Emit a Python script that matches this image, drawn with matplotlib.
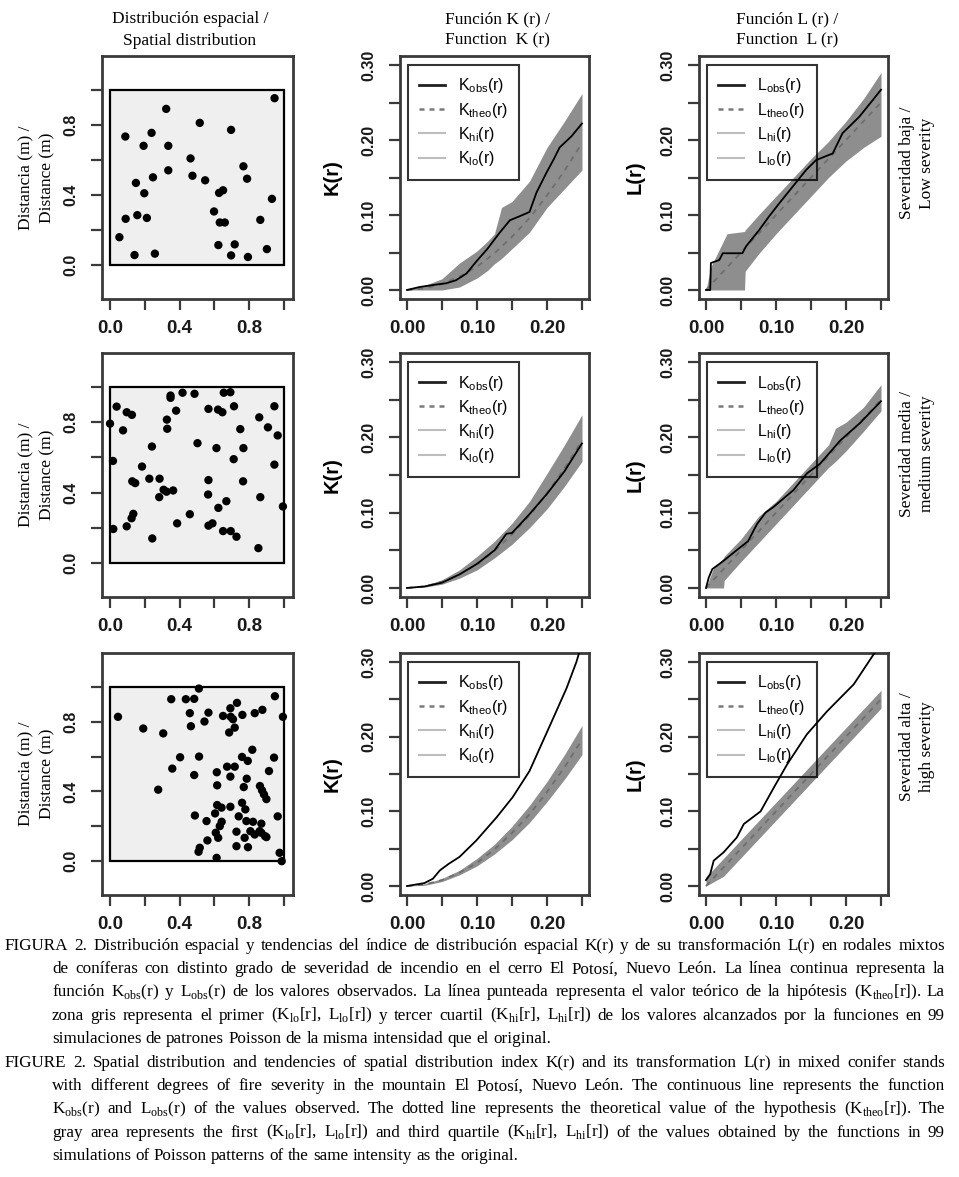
import numpy as np
import matplotlib
matplotlib.use("Agg")
import matplotlib.pyplot as plt
from matplotlib.lines import Line2D
from matplotlib.patches import Rectangle

plt.rcParams['font.family'] = 'Liberation Sans'
plt.rcParams['mathtext.fontset'] = 'custom'
plt.rcParams['mathtext.rm'] = 'Liberation Serif'
plt.rcParams['mathtext.sf'] = 'Liberation Sans'

# ---------------- data ----------------
# point patterns (unit window)
pts1_x = [0.946, 0.323, 0.516, 0.696, 0.088, 0.239, 0.193, 0.335, 0.463, 0.767, 0.335, 0.474,
          0.247, 0.788, 0.547, 0.149, 0.650, 0.627, 0.197, 0.931, 0.598, 0.157, 0.212, 0.090,
          0.631, 0.660, 0.864, 0.054, 0.623, 0.717, 0.902, 0.141, 0.258, 0.696, 0.793]
pts1_y = [0.953, 0.892, 0.812, 0.772, 0.734, 0.755, 0.681, 0.681, 0.609, 0.564, 0.541, 0.510,
          0.501, 0.493, 0.484, 0.469, 0.427, 0.412, 0.410, 0.378, 0.306, 0.285, 0.269, 0.264,
          0.243, 0.243, 0.258, 0.159, 0.114, 0.118, 0.091, 0.057, 0.065, 0.055, 0.046]

pts2_x = [0.348, 0.348, 0.417, 0.486, 0.654, 0.692, 0.038, 0.096, 0.126, 0.566, 0.621, 0.646,
          0.713, 0.945, 0.380, 0.327, 0.329, 0.000, 0.075, 0.749, 0.858, 0.908, 0.964, 0.503,
          0.241, 0.612, 0.767, 0.017, 0.711, 0.184, 0.945, 0.128, 0.145, 0.226, 0.285, 0.566,
          0.765, 0.308, 0.363, 0.283, 0.325, 0.564, 0.669, 0.864, 0.623, 0.994, 0.459, 0.134,
          0.124, 0.096, 0.019, 0.386, 0.566, 0.589, 0.650, 0.694, 0.727, 0.243, 0.853]
pts2_y = [0.952, 0.939, 0.968, 0.962, 0.968, 0.971, 0.889, 0.857, 0.842, 0.876, 0.872, 0.857,
          0.891, 0.891, 0.866, 0.815, 0.763, 0.792, 0.754, 0.761, 0.828, 0.771, 0.725, 0.681,
          0.662, 0.653, 0.653, 0.580, 0.590, 0.548, 0.559, 0.464, 0.454, 0.479, 0.479, 0.471,
          0.464, 0.416, 0.412, 0.374, 0.405, 0.389, 0.351, 0.374, 0.313, 0.321, 0.277, 0.279,
          0.254, 0.208, 0.193, 0.225, 0.212, 0.225, 0.181, 0.181, 0.149, 0.139, 0.084]

pts3_x = [0.511, 0.948, 0.352, 0.436, 0.484, 0.730, 0.692, 0.876, 0.046, 0.459, 0.566, 0.650,
          0.694, 0.761, 0.832, 0.994, 0.707, 0.543, 0.191, 0.465, 0.717, 0.685, 0.306, 0.818,
          0.403, 0.512, 0.759, 0.792, 0.943, 0.358, 0.673, 0.717, 0.614, 0.914, 0.484, 0.692,
          0.786, 0.616, 0.769, 0.277, 0.862, 0.874, 0.885, 0.899, 0.759, 0.778, 0.616, 0.641,
          0.692, 0.604, 0.488, 0.740, 0.964, 0.555, 0.642, 0.784, 0.822, 0.870, 0.631, 0.807,
          0.727, 0.608, 0.870, 0.891, 0.832, 0.774, 0.560, 0.622, 0.727, 0.793, 0.516, 0.509,
          0.613, 0.975, 0.987, 0.860, 0.899]
pts3_y = [0.990, 0.946, 0.929, 0.929, 0.931, 0.908, 0.877, 0.868, 0.828, 0.849, 0.852, 0.833,
          0.828, 0.839, 0.849, 0.828, 0.814, 0.801, 0.761, 0.774, 0.766, 0.738, 0.733, 0.639,
          0.596, 0.600, 0.598, 0.575, 0.594, 0.531, 0.542, 0.542, 0.510, 0.517, 0.494, 0.485,
          0.473, 0.435, 0.425, 0.410, 0.431, 0.406, 0.383, 0.356, 0.335, 0.297, 0.322, 0.307,
          0.312, 0.274, 0.262, 0.257, 0.257, 0.230, 0.226, 0.230, 0.226, 0.215, 0.201, 0.172,
          0.169, 0.163, 0.163, 0.144, 0.153, 0.134, 0.119, 0.134, 0.086, 0.080, 0.077, 0.054,
          0.019, 0.048, 0.000, 0.172, 0.138]

# theoretical curves (same in every row)
r_theo = [0, 0.025, 0.05, 0.075, 0.1, 0.125, 0.15, 0.175, 0.2, 0.225, 0.25]
k_theo = [0, 0.002, 0.008, 0.018, 0.031, 0.049, 0.071, 0.096, 0.126, 0.159, 0.196]
l_theo = [0, 0.025, 0.05, 0.075, 0.1, 0.125, 0.15, 0.175, 0.2, 0.225, 0.25]

# row 1 - low severity
k1_obs_r = [0, 0.018, 0.04, 0.056, 0.07, 0.085, 0.099, 0.115, 0.132, 0.147, 0.16, 0.175, 0.185,
            0.199, 0.21, 0.218, 0.235, 0.25]
k1_obs = [0, 0.004, 0.007, 0.009, 0.013, 0.022, 0.038, 0.055, 0.076, 0.093, 0.098, 0.104, 0.13,
          0.156, 0.175, 0.19, 0.205, 0.222]
k1_band_r = [0, 0.025, 0.05, 0.075, 0.1, 0.115, 0.125, 0.135, 0.15, 0.175, 0.2, 0.225, 0.25]
k1_hi = [0, 0.006, 0.015, 0.036, 0.052, 0.065, 0.075, 0.11, 0.118, 0.145, 0.19, 0.225, 0.262]
k1_lo = [0, 0, 0, 0.004, 0.016, 0.026, 0.035, 0.042, 0.055, 0.077, 0.11, 0.135, 0.16]

l1_obs_r = [0, 0.006, 0.007, 0.019, 0.024, 0.052, 0.057, 0.076, 0.09, 0.105, 0.124, 0.143,
            0.157, 0.17, 0.181, 0.195, 0.219, 0.238, 0.25]
l1_obs = [0, 0.0, 0.036, 0.04, 0.049, 0.049, 0.058, 0.08, 0.098, 0.116, 0.138, 0.16, 0.173,
          0.178, 0.182, 0.209, 0.231, 0.253, 0.267]
l1_band_r = [0, 0.007, 0.03, 0.055, 0.056, 0.075, 0.1, 0.125, 0.15, 0.175, 0.2, 0.225, 0.25]
l1_hi = [0, 0.031, 0.075, 0.078, 0.08, 0.1, 0.125, 0.15, 0.175, 0.198, 0.225, 0.255, 0.29]
l1_lo = [0, 0, 0, 0, 0.025, 0.048, 0.075, 0.1, 0.125, 0.15, 0.172, 0.19, 0.205]

# row 2 - medium severity
k2_obs_r = [0, 0.025, 0.05, 0.075, 0.1, 0.125, 0.142, 0.15, 0.175, 0.2, 0.225, 0.25]
k2_obs = [0, 0.002, 0.007, 0.018, 0.032, 0.05, 0.072, 0.073, 0.098, 0.125, 0.155, 0.192]
k2_hi = [0, 0.003, 0.011, 0.024, 0.042, 0.062, 0.086, 0.115, 0.152, 0.19, 0.23]
k2_lo = [0, 0.001, 0.005, 0.013, 0.024, 0.04, 0.058, 0.08, 0.105, 0.135, 0.168]

l2_obs_r = [0, 0.004, 0.009, 0.025, 0.049, 0.06, 0.073, 0.085, 0.097, 0.125, 0.144, 0.163,
            0.192, 0.22, 0.25]
l2_obs = [0, 0.014, 0.025, 0.036, 0.054, 0.062, 0.085, 0.1, 0.108, 0.13, 0.152, 0.165, 0.196,
          0.219, 0.248]
l2_band_r = [0, 0.01, 0.025, 0.026, 0.05, 0.075, 0.1, 0.125, 0.15, 0.175, 0.185, 0.2, 0.225, 0.25]
l2_hi = [0, 0.025, 0.04, 0.042, 0.065, 0.095, 0.115, 0.14, 0.165, 0.19, 0.212, 0.22, 0.24, 0.27]
l2_lo = [0, 0, 0, 0.01, 0.035, 0.06, 0.085, 0.11, 0.135, 0.16, 0.168, 0.182, 0.208, 0.235]

# row 3 - high severity
k3_obs_r = [0, 0.025, 0.037, 0.047, 0.06, 0.075, 0.099, 0.128, 0.151, 0.175, 0.209, 0.228,
            0.242, 0.25]
k3_obs = [0, 0.004, 0.0098, 0.021, 0.03, 0.039, 0.061, 0.092, 0.119, 0.154, 0.225, 0.265,
          0.30, 0.325]
k3_hi = [0, 0.003, 0.01, 0.021, 0.037, 0.056, 0.08, 0.108, 0.14, 0.176, 0.215]
k3_lo = [0, 0.001, 0.006, 0.015, 0.027, 0.043, 0.062, 0.085, 0.113, 0.143, 0.176]

l3_obs_r = [0, 0.006, 0.011, 0.025, 0.044, 0.054, 0.078, 0.097, 0.116, 0.144, 0.173, 0.211,
            0.24, 0.25]
l3_obs = [0.008, 0.016, 0.034, 0.045, 0.065, 0.083, 0.1, 0.132, 0.163, 0.203, 0.234, 0.27,
          0.311, 0.32]
l3_hi = [0.012, 0.037, 0.062, 0.087, 0.112, 0.137, 0.162, 0.187, 0.212, 0.237, 0.262]
l3_lo = [0, 0.013, 0.038, 0.063, 0.088, 0.113, 0.138, 0.163, 0.188, 0.213, 0.238]

col_titles = ["Distribución espacial /\nSpatial distribution",
              "Función K (r) /\nFunction  K (r)",
              "Función L (r) /\nFunction  L (r)"]
row_titles = ["Severidad baja /\nLow severity",
              "Severidad media /\nmedium severity",
              "Severidad alta /\nhigh severity"]

caption_es = [
    "FIGURA 2. Distribución espacial y tendencias del índice de distribución espacial K(r) y de su transformación L(r) en rodales mixtos",
    "de coníferas con distinto grado de severidad de incendio en el cerro El Potosí, Nuevo León. La línea continua representa la",
    r"función K$_{\mathrm{obs}}$(r) y L$_{\mathrm{obs}}$(r) de los valores observados. La línea punteada representa el valor teórico de la hipótesis (K$_{\mathrm{theo}}$[r]). La",
    r"zona gris representa el primer (K$_{\mathrm{lo}}$[r], L$_{\mathrm{lo}}$[r]) y tercer cuartil (K$_{\mathrm{hi}}$[r], L$_{\mathrm{hi}}$[r]) de los valores alcanzados por la funciones en 99",
    "simulaciones de patrones Poisson de la misma intensidad que el original.",
]
caption_en = [
    "FIGURE 2. Spatial distribution and tendencies of spatial distribution index K(r) and its transformation L(r) in mixed conifer stands",
    "with different degrees of fire severity in the mountain El Potosí, Nuevo León. The continuous line represents the function",
    r"K$_{\mathrm{obs}}$(r) and L$_{\mathrm{obs}}$(r) of the values observed. The dotted line represents the theoretical value of the hypothesis (K$_{\mathrm{theo}}$[r]). The",
    r"gray area represents the first (K$_{\mathrm{lo}}$[r], L$_{\mathrm{lo}}$[r]) and third quartile (K$_{\mathrm{hi}}$[r], L$_{\mathrm{hi}}$[r]) of the values obtained by the functions in 99",
    "simulations of Poisson patterns of the same intensity as the original.",
]

# ---------------- layout (pixels) ----------------
W, H = 959, 1177
fig = plt.figure(figsize=(W / 100, H / 100), dpi=100)
rows_px = [(56, 299), (353, 597), (653, 895)]
cols_px = [(102, 293), (400, 589), (699, 888)]
BAND = '#8e8e8e'
SERIF = 'Liberation Serif'


def px_box(c, r):
    x0, x1 = cols_px[c]
    y0, y1 = rows_px[r]
    return [x0 / W, 1 - y1 / H, (x1 - x0) / W, (y1 - y0) / H]


def style(ax, xt, xl, yt, yl):
    ax.set_xticks(xt)
    ax.set_xticklabels(xl)
    ax.set_yticks(yt)
    ax.set_yticklabels(yl)
    for s in ax.spines.values():
        s.set_linewidth(2.0)
        s.set_color('#3a3a3a')
    ax.tick_params(direction='out', length=8, width=1.6, color='#3a3a3a', labelcolor='#1a1a1a')
    ax.tick_params(axis='x', labelsize=13.5, pad=7)
    ax.tick_params(axis='y', labelsize=11.5, pad=9, labelrotation=90)
    for t in ax.get_xticklabels() + ax.get_yticklabels():
        t.set_fontweight('bold')
        if t in ax.get_yticklabels():
            t.set_va('center')


def scatter_panel(r, xs, ys):
    ax = fig.add_axes(px_box(0, r))
    ax.add_patch(Rectangle((0, 0), 1, 1, facecolor='#efefef', edgecolor='black', lw=1.6, zorder=1))
    ax.scatter(xs, ys, s=36, color='black', zorder=3, edgecolors='none')
    ax.set_xlim(-0.046, 1.052)
    ax.set_ylim(-0.194, 1.194)
    ticks = [0, 0.2, 0.4, 0.6, 0.8, 1.0]
    labs = ['0.0', '', '0.4', '', '0.8', '']
    style(ax, ticks, labs, ticks, labs)
    ax.set_ylabel("Distancia (m) /\nDistance (m)", family=SERIF, fontsize=12.5, labelpad=6,
                  linespacing=1.4)
    return ax


def func_panel(c, r, letter, obs_r, obs, band_r, hi, lo, theo):
    ax = fig.add_axes(px_box(c, r))
    ax.fill_between(band_r, lo, hi, color=BAND, lw=0, zorder=1)
    ax.plot(r_theo, theo, color='#6e6e6e', lw=1.3, ls=(0, (3, 3)), zorder=2)
    ax.plot(obs_r, obs, color='black', lw=1.3, zorder=3)
    ax.set_xlim(-0.01, 0.26)
    ax.set_ylim(-0.012, 0.312)
    style(ax, [0, 0.05, 0.1, 0.15, 0.2, 0.25], ['0.00', '', '0.10', '', '0.20', ''],
          [0, 0.05, 0.1, 0.15, 0.2, 0.25, 0.3], ['0.00', '', '0.10', '', '0.20', '', '0.30'])
    ax.set_ylabel(letter + "(r)", fontsize=14.5, fontweight='bold',
                  labelpad=14 if letter == 'K' else 11)
    handles = [Line2D([], [], color='#202020', lw=2.0),
               Line2D([], [], color='#7a7a7a', lw=1.8, ls=(0, (2, 2))),
               Line2D([], [], color='#bdbdbd', lw=1.5),
               Line2D([], [], color='#bdbdbd', lw=1.5)]
    labels = [letter + r'$_{\mathsf{%s}}$(r)' % s for s in ['obs', 'theo', 'hi', 'lo']]
    leg = ax.legend(handles, labels, loc='upper left', bbox_to_anchor=(0.042, 0.963),
                    borderaxespad=0, fancybox=False, edgecolor='black', facecolor='none',
                    framealpha=None, fontsize=11.5, handlelength=1.6, handletextpad=0.8,
                    borderpad=0.72, labelspacing=0.33)
    leg.get_frame().set_linewidth(1.5)
    return ax


patterns = [(pts1_x, pts1_y), (pts2_x, pts2_y), (pts3_x, pts3_y)]
k_sets = [(k1_obs_r, k1_obs, k1_band_r, k1_hi, k1_lo),
          (k2_obs_r, k2_obs, r_theo, k2_hi, k2_lo),
          (k3_obs_r, k3_obs, r_theo, k3_hi, k3_lo)]
l_sets = [(l1_obs_r, l1_obs, l1_band_r, l1_hi, l1_lo),
          (l2_obs_r, l2_obs, l2_band_r, l2_hi, l2_lo),
          (l3_obs_r, l3_obs, r_theo, l3_hi, l3_lo)]

for i in range(3):
    scatter_panel(i, *patterns[i])
    func_panel(1, i, 'K', *k_sets[i], k_theo)
    func_panel(2, i, 'L', *l_sets[i], l_theo)

# column headings and row labels
col_cx = [190, 497, 787]
for cx, t in zip(col_cx, col_titles):
    fig.text(cx / W, 1 - 30 / H, t, family=SERIF, fontsize=12.5, ha='center', va='center',
             linespacing=1.45)
row_cy = [163, 454, 747]
for cy, t in zip(row_cy, row_titles):
    fig.text(917 / W, 1 - cy / H, t, family=SERIF, fontsize=12.5, ha='center', va='center',
             rotation=90, linespacing=1.4)


# caption, justified like the printed page
def caption_line(text, x0, x1, yb, size, justify=True):
    words = text.split(' ')
    objs = [fig.text(0, 1 - yb / H, w, family=SERIF, fontsize=size, va='baseline') for w in words]
    rend = fig.canvas.get_renderer()
    widths = [o.get_window_extent(rend).width for o in objs]
    if justify and len(words) > 1:
        gap = (x1 - x0 - sum(widths)) / (len(words) - 1)
    else:
        gap = 0.25 * size * 100 / 72
    x = x0
    for o, w in zip(objs, widths):
        o.set_x(x / W)
        x += w + gap


CAP_SIZE = 12.3
for block, y0 in [(caption_es, 950), (caption_en, 1067)]:
    for j, line in enumerate(block):
        x0 = 5 if j == 0 else 52
        caption_line(line, x0, 945, y0 + j * 23.2, CAP_SIZE, justify=(j < len(block) - 1))

fig.savefig("out.png", dpi=100)
